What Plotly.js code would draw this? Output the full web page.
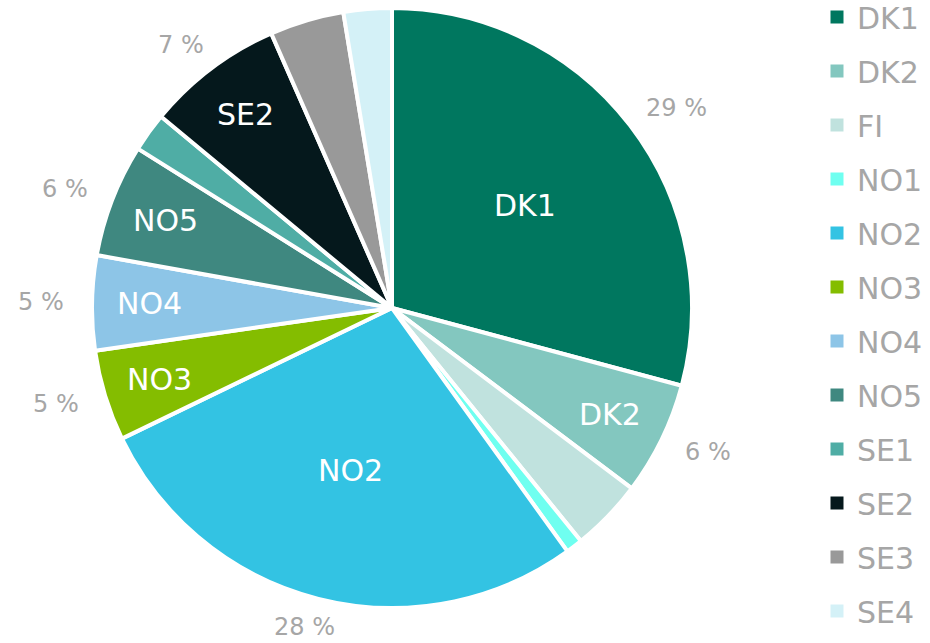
<!DOCTYPE html>
<html>
<head>
<meta charset="utf-8">
<script src="https://cdn.plot.ly/plotly-3.0.1.min.js"></script>
<style>html,body{margin:0;padding:0;background:#fff;}#chart{width:930px;height:643px;}</style>
</head>
<body>
<div id="chart"></div>
<script>
// ---- data ----
var categories = ['DK1','DK2','FI','NO1','NO2','NO3','NO4','NO5','SE1','SE2','SE3','SE4'];
var shares     = [29.2, 6.1, 3.9, 0.9, 27.8, 4.9, 5.1, 6.1, 2.1, 7.4, 4.0, 2.6];
var colors     = ['#00775f','#83c7bf','#c0e2de','#6ffff0','#33c3e3','#84bd00',
                  '#8dc5e7','#3f8880','#4fada5','#05181c','#999999','#d4f1f7'];

// ---- layout constants ----
var W = 930, H = 643;
var CX = 392, CY = 308, R = 300;
var GREY = '#a6a6a6';
var FONT = 'DejaVu Sans, Verdana, sans-serif';

var total = shares.reduce(function(a,b){return a+b;},0);
var labelled = shares.map(function(v){ return v/total*100 >= 4.5; });

var pie = {
  type: 'pie',
  labels: categories,
  values: shares,
  sort: false,
  direction: 'clockwise',
  rotation: 0,
  showlegend: false,
  marker: {colors: colors, line: {color: '#ffffff', width: 4}},
  textinfo: 'none',
  hoverinfo: 'skip',
  domain: {x: [(CX-R)/W, (CX+R)/W], y: [(H-CY-R)/H, (H-CY+R)/H]}
};

// legend entries (one per category)
var legendTraces = categories.map(function(c,i){
  return {
    type: 'scatter', mode: 'markers', x: [null], y: [null],
    name: c, legendgroup: c,
    marker: {symbol: 'square', size: 13, color: colors[i], line: {width: 0}},
    hoverinfo: 'skip'
  };
});

// labels: category name inside each large slice, percentage outside it
var annotations = [];
var cum = 0;
shares.forEach(function(v,i){
  var frac = v/total;
  var mid = (cum + v/2)/total * 2*Math.PI;
  cum += v;
  if (!labelled[i]) return;
  var s = Math.sin(mid), c = Math.cos(mid);
  // inside label
  var rin = frac > 0.2 ? 0.56*R : 0.81*R;
  annotations.push({
    xref: 'paper', yref: 'paper',
    x: (CX + rin*s)/W, y: (H - (CY - rin*c))/H,
    xanchor: 'center', yanchor: 'middle', showarrow: false,
    text: categories[i], font: {family: FONT, size: 30, color: '#ffffff'}
  });
  // outside percentage label
  var txt = Math.round(frac*100) + ' %';
  var hw = txt.length * 7, hh = 11;
  var px = CX + (R+30)*s + hw*s;
  var py = CY - (R+18)*c - hh*c;
  annotations.push({
    xref: 'paper', yref: 'paper', x: px/W, y: (H-py)/H,
    xanchor: 'center', yanchor: 'middle', showarrow: false,
    text: txt, font: {family: FONT, size: 24, color: GREY}
  });
});

var layout = {
  width: W, height: H,
  margin: {l: 0, r: 0, t: 0, b: 0, autoexpand: false},
  paper_bgcolor: '#ffffff', plot_bgcolor: '#ffffff',
  xaxis: {visible: false}, yaxis: {visible: false},
  showlegend: true,
  legend: {
    x: 817/W, xanchor: 'left', y: 1 + 9/H, yanchor: 'top',
    maxheight: 800,
    font: {family: FONT, size: 30, color: GREY},
    tracegroupgap: 12, itemwidth: 30,
    bgcolor: 'rgba(0,0,0,0)'
  },
  annotations: annotations
};

Plotly.newPlot('chart', [pie].concat(legendTraces), layout, {displayModeBar: false, staticPlot: true});
</script>
</body>
</html>
